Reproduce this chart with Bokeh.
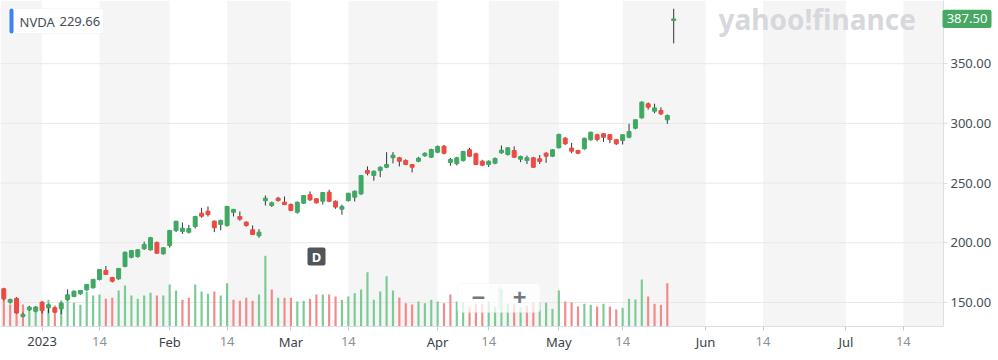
import pandas as pd
from bokeh.plotting import figure
from bokeh.models import (Range1d, FixedTicker, NumeralTickFormatter, Label,
                          BoxAnnotation, ColumnDataSource)
from bokeh.embed import file_html
from bokeh.resources import INLINE

# ---------------- data ----------------
symbol = "NVDA"
legend_value = "229.66"
last_price_text = "387.50"
logo_text = "yahoo!finance"
interval_text = "D"

first_session = "2022-12-22"
last_session = "2023-05-25"
market_holidays = ["2022-12-26", "2023-01-02", "2023-01-16", "2023-02-20", "2023-04-07"]
future_until = "2023-08-15"

opens = [
    161.5, 150.3, 153.5, 138.3, 143.9, 142.7,
    150.3, 145.6, 145.6, 144.7, 152.5, 155.0, 157.3, 160.6, 162.3,
    169.3, 176.8, 170.9, 169.8, 180.2, 187.9, 188.5, 195.0, 194.1, 200.3, 190.8,
    197.7, 210.3, 209.5, 208.9, 213.6, 224.8, 226.5, 218.1, 215.3, 214.5, 225.6, 222.0, 217.3,
    210.9, 205.9, 235.2, 231.2, 237.4, 234.0,
    232.1, 225.6, 233.2, 240.2, 236.8, 234.8, 242.4, 234.8,
    228.1, 235.4, 238.2, 241.0, 260.6, 256.4, 260.6, 263.3, 271.2, 271.2, 268.9, 265.6, 268.3, 272.9, 271.7,
    275.9, 280.9, 267.3, 266.2, 268.9, 277.9, 274.5, 268.3, 265.6, 266.7, 275.4, 274.0, 277.3, 270.0, 268.9, 271.2, 270.3, 275.0, 272.5,
    279.6, 287.6, 279.3, 277.3, 278.7, 286.3, 290.5, 291.3, 290.5, 286.3, 285.7, 288.4, 296.0, 304.7, 316.4, 310.2, 310.8, 303.0, 386.2,
]
highs = [
    162.3, 153.3, 154.5, 141.5, 147.2, 146.8,
    151.3, 149.0, 146.2, 150.5, 161.0, 160.0, 160.5, 165.5, 169.8,
    178.0, 180.5, 171.5, 178.9, 192.6, 194.0, 194.5, 201.0, 205.0, 201.0, 196.2,
    210.8, 218.3, 217.0, 215.0, 222.6, 229.3, 230.4, 218.8, 219.5, 231.0, 228.5, 226.2, 218.0,
    214.5, 211.4, 239.6, 234.5, 238.5, 238.8,
    233.0, 234.5, 240.0, 243.0, 237.5, 242.5, 244.5, 235.5,
    232.0, 241.8, 243.8, 256.8, 264.0, 260.5, 264.0, 275.9, 276.0, 272.0, 270.0, 266.0, 272.0, 275.8, 278.8,
    281.5, 282.0, 271.0, 272.0, 277.0, 279.5, 275.5, 269.5, 269.0, 271.5, 281.5, 280.0, 280.7, 273.0, 273.0, 272.0, 273.5, 276.0, 278.5,
    291.5, 288.5, 283.7, 278.0, 288.0, 293.0, 291.5, 292.0, 291.0, 287.0, 291.0, 299.7, 303.5, 318.5, 317.5, 316.5, 313.5, 307.5, 396.0,
]
lows = [
    151.7, 149.0, 140.5, 137.5, 143.0, 141.8,
    140.8, 141.0, 141.2, 140.3, 151.5, 154.5, 156.5, 159.8, 161.8,
    168.5, 173.0, 166.8, 169.0, 179.5, 187.0, 187.5, 194.0, 193.5, 190.8, 190.0,
    196.0, 209.0, 207.5, 207.8, 212.0, 221.0, 222.0, 208.9, 210.5, 213.5, 222.0, 218.5, 213.5,
    206.5, 204.2, 231.2, 230.0, 234.5, 231.5,
    226.5, 224.5, 232.5, 235.0, 232.8, 232.0, 234.0, 228.5,
    223.5, 234.5, 234.6, 240.0, 256.5, 252.0, 255.0, 262.5, 266.5, 264.0, 265.0, 259.0, 267.5, 272.0, 271.0,
    275.0, 274.0, 264.5, 264.8, 268.0, 271.8, 265.0, 264.2, 263.5, 265.8, 274.5, 273.0, 271.0, 267.5, 266.0, 262.8, 266.0, 267.0, 271.8,
    279.0, 282.0, 275.0, 274.2, 278.0, 285.5, 285.0, 284.5, 283.5, 282.0, 282.3, 287.5, 295.0, 304.0, 311.5, 308.5, 307.0, 299.7, 367.0,
]
closes = [
    153.1, 152.5, 141.2, 140.0, 146.0, 146.2,
    143.3, 148.1, 141.9, 149.4, 156.4, 159.5, 160.0, 165.1, 169.3,
    177.6, 173.5, 167.8, 178.5, 192.1, 193.5, 194.1, 198.6, 204.2, 191.3, 195.8,
    210.3, 218.1, 212.2, 211.9, 222.0, 222.3, 223.7, 212.6, 218.7, 230.4, 227.9, 219.8, 214.5,
    207.0, 208.9, 237.4, 233.5, 235.4, 232.1,
    227.1, 234.0, 239.6, 236.0, 233.5, 242.1, 234.8, 229.9,
    230.5, 241.5, 243.2, 256.4, 258.3, 260.0, 263.3, 265.6, 273.4, 268.3, 265.6, 263.3, 270.9, 275.0, 278.1,
    280.7, 275.0, 269.8, 271.2, 276.5, 272.5, 265.6, 265.0, 268.3, 270.6, 277.6, 279.6, 271.7, 272.3, 271.2, 263.3, 268.1, 272.5, 277.9,
    290.7, 282.9, 276.7, 275.0, 287.6, 292.6, 286.5, 288.4, 286.5, 282.9, 290.5, 293.2, 303.0, 317.8, 313.6, 313.0, 308.0, 306.6, 387.5,
]
volumes_m = [
    49.0, 28.6, 36.0, 28.6, 26.0, 26.0,
    31.6, 34.7, 27.3, 33.8, 40.3, 30.8, 28.2, 45.5, 40.3,
    41.6, 36.0, 37.3, 46.8, 53.3, 40.3, 36.0, 40.3, 43.8, 40.3, 40.3,
    54.6, 46.8, 34.7, 37.3, 54.6, 45.5, 42.5, 45.5, 40.3, 56.3, 34.7, 33.4, 37.3,
    33.4, 41.6, 91.9, 48.1, 37.3, 37.3,
    37.3, 32.5, 33.4, 36.0, 41.6, 41.6, 41.6, 39.0,
    34.7, 39.0, 43.3, 48.1, 70.6, 34.7, 45.5, 65.4, 46.8, 37.7, 30.3, 28.6, 32.5, 30.3, 34.7,
    32.5, 30.3, 41.6, 32.5, 31.6, 26.0, 29.5, 29.5, 32.5, 26.0, 49.0, 29.5, 29.5, 25.1, 27.3, 31.6, 31.6, 30.8, 23.0,
    46.8, 32.5, 31.2, 26.0, 29.5, 28.2, 26.0, 29.5, 26.0, 22.1, 24.3, 36.0, 35.1, 61.1, 39.0, 29.5, 28.2, 56.3, 0.0,
]

tick_dates = ["2023-01-01", "2023-01-14", "2023-02-01", "2023-02-14", "2023-03-01", "2023-03-14",
              "2023-04-01", "2023-04-14", "2023-05-01", "2023-05-14", "2023-06-01", "2023-06-14",
              "2023-07-01", "2023-07-14"]
tick_labels = ["2023", "14", "Feb", "14", "Mar", "14", "Apr", "14", "May", "14", "Jun", "14", "Jul", "14"]
price_ticks = [150, 200, 250, 300, 350]

# ---------------- derived ----------------
sessions = pd.bdate_range(first_session, last_session, freq="C", holidays=market_holidays)
assert len(sessions) == len(opens) == len(highs) == len(lows) == len(closes) == len(volumes_m)
future = pd.bdate_range(pd.Timestamp(last_session) + pd.Timedelta(days=1), future_until)
calendar = list(sessions) + list(future)

def session_index(d):
    d = pd.Timestamp(d)
    for i, s in enumerate(calendar):
        if s >= d:
            return i
    return len(calendar) - 1

tick_idx = [session_index(d) for d in tick_dates]
idx = list(range(len(sessions)))

GREEN = "#3fa863"
RED = "#ec4a43"
VGREEN = "#7ccb97"
VRED = "#f28a89"

candle_col = [GREEN if c >= o else RED for o, c in zip(opens, closes)]
vol_col = []
for i, c in enumerate(closes):
    ref = closes[i - 1] if i > 0 else opens[0]
    vol_col.append(VGREEN if c >= ref else VRED)

src = ColumnDataSource(dict(
    x=idx, o=opens, h=highs, l=lows, c=closes, v=volumes_m,
    top=[max(o, c) for o, c in zip(opens, closes)],
    bot=[min(o, c) for o, c in zip(opens, closes)],
    cc=candle_col, vc=vol_col,
))

# ---------------- figure (frame covers the whole canvas) ----------------
FW, FH = 995, 360
PLOT_R_PX, PLOT_B_PX = 943, 326          # right / bottom edge of the chart area
X0, X1 = -0.517, 155.44
Y0, Y1 = 101.42, 402.93
V0, V1 = -44.2, 423.8

sx = FW / (X1 - X0)
sy = FH / (Y1 - Y0)
def dx(px):
    return X0 + px / sx
def dy(py):
    return Y1 - py / sy

XE = dx(PLOT_R_PX)
YB = dy(PLOT_B_PX)

p = figure(frame_width=FW, frame_height=FH, x_range=Range1d(X0, X1), y_range=Range1d(Y0, Y1),
           y_axis_location="right", toolbar_location=None, output_backend="svg",
           min_border=0, outline_line_color=None,
           background_fill_color="white", border_fill_color="white")
p.extra_y_ranges = {"vol": Range1d(V0, V1)}
p.xgrid.visible = False
p.ygrid.visible = False

# month / half-month shading bands
edges_l = [X0] + tick_idx[1::2]
edges_r = tick_idx[0::2] + [XE]
p.quad(left=edges_l, right=edges_r, bottom=YB, top=Y1, fill_color="#f5f5f5",
       line_color=None, level="image")

# horizontal grid lines at the price ticks
p.segment(x0=[X0] * len(price_ticks), x1=[XE] * len(price_ticks), y0=price_ticks, y1=price_ticks,
          line_color="#e8e8e8", line_width=1, level="underlay")

# volume
p.vbar(x="x", top="v", bottom=0, width=0.34, source=src, y_range_name="vol",
       fill_color="vc", line_color=None)
# candles
p.segment(x0="x", y0="l", x1="x", y1="h", source=src, line_color="#30353a", line_width=1)
p.vbar(x="x", top="top", bottom="bot", width=0.62, source=src,
       fill_color="cc", line_color="cc", line_width=1)

# axes drawn at the chart edges
ya = p.yaxis[0]
ya.fixed_location = XE
ya.bounds = (YB, Y1)
ya.ticker = FixedTicker(ticks=price_ticks)
ya.formatter = NumeralTickFormatter(format="0.00")
ya.axis_line_color = "#dcdfe3"
ya.major_tick_line_color = "#dcdfe3"
ya.major_tick_in = 0
ya.major_tick_out = 4
ya.minor_tick_line_color = None
ya.major_label_standoff = 3
ya.major_label_text_font = "Noto Sans"
ya.major_label_text_font_size = "13px"
ya.major_label_text_color = "#464e56"

xa = p.xaxis[0]
xa.fixed_location = YB
xa.bounds = (X0, XE)
xa.ticker = FixedTicker(ticks=tick_idx)
xa.axis_line_color = "#dcdfe3"
xa.major_tick_line_color = "#c5cacf"
xa.major_tick_in = 0
xa.major_tick_out = 4
xa.minor_tick_line_color = None
xa.major_label_text_color = None

for t, lab in zip(tick_idx, tick_labels):
    is_month = lab != "14"
    p.add_layout(Label(x=t, y=dy(341), text=lab, text_align="center",
                       text_baseline="middle", text_font="Noto Sans", text_font_size="13px",
                       text_color="#3c4248" if is_month else "#8b9197"))

# watermark
p.add_layout(Label(x=dx(718), y=dy(18.5), text=logo_text, text_baseline="middle",
                   text_font="Noto Sans", text_font_style="bold", text_font_size="28px",
                   text_color="#d6d8db"))

# legend chip
p.add_layout(BoxAnnotation(left=dx(9), right=dx(103), top=dy(8), bottom=dy(33),
                           fill_color="white", fill_alpha=1.0, line_color="#e4e7ea",
                           line_width=1, border_radius=3))
p.add_layout(BoxAnnotation(left=dx(9), right=dx(13), top=dy(8), bottom=dy(33),
                           fill_color="#3b82f6", fill_alpha=1.0, line_color=None, border_radius=2))
p.add_layout(Label(x=dx(19), y=dy(21), text=symbol, text_baseline="middle",
                   text_font="Noto Sans", text_font_size="13px", text_color="#464e56"))
p.add_layout(Label(x=dx(59), y=dy(21), text=legend_value, text_baseline="middle",
                   text_font="Noto Sans", text_font_size="13px", text_color="#464e56"))

# interval badge
p.add_layout(BoxAnnotation(left=dx(307), right=dx(325), top=dy(247), bottom=dy(265),
                           fill_color="#50555a", fill_alpha=1.0, line_color=None, border_radius=2))
p.add_layout(Label(x=dx(316), y=dy(256), text=interval_text, text_align="center",
                   text_baseline="middle", text_font="Noto Sans", text_font_style="bold",
                   text_font_size="13px", text_color="white"))

# zoom control
p.add_layout(BoxAnnotation(left=dx(457), right=dx(540), top=dy(283), bottom=dy(312),
                           fill_color="white", fill_alpha=0.75, line_color="#e6e8eb",
                           line_width=1, border_radius=4))
p.add_layout(BoxAnnotation(left=dx(498), right=dx(499), top=dy(286), bottom=dy(309),
                           fill_color="#eceef0", fill_alpha=1.0, line_color=None))
p.add_layout(Label(x=dx(478), y=dy(297), text="\u2212", text_align="center",
                   text_baseline="middle", text_font="Noto Sans", text_font_style="bold",
                   text_font_size="24px", text_color="#72787e"))
p.add_layout(Label(x=dx(519), y=dy(297), text="+", text_align="center",
                   text_baseline="middle", text_font="Noto Sans", text_font_style="bold",
                   text_font_size="24px", text_color="#72787e"))

# last price tag on the price axis
half_tag = 9.2 / sy
p.add_layout(BoxAnnotation(left=dx(942), right=dx(991), top=closes[-1] + half_tag,
                           bottom=closes[-1] - half_tag, fill_color="#46a862", fill_alpha=1.0,
                           line_color=None, border_radius=2))
p.add_layout(Label(x=dx(966.5), y=closes[-1], text=last_price_text, text_align="center",
                   text_baseline="middle", text_font="Noto Sans", text_font_size="13px",
                   text_color="white"))

open("out.html", "w").write(file_html(p, INLINE))
